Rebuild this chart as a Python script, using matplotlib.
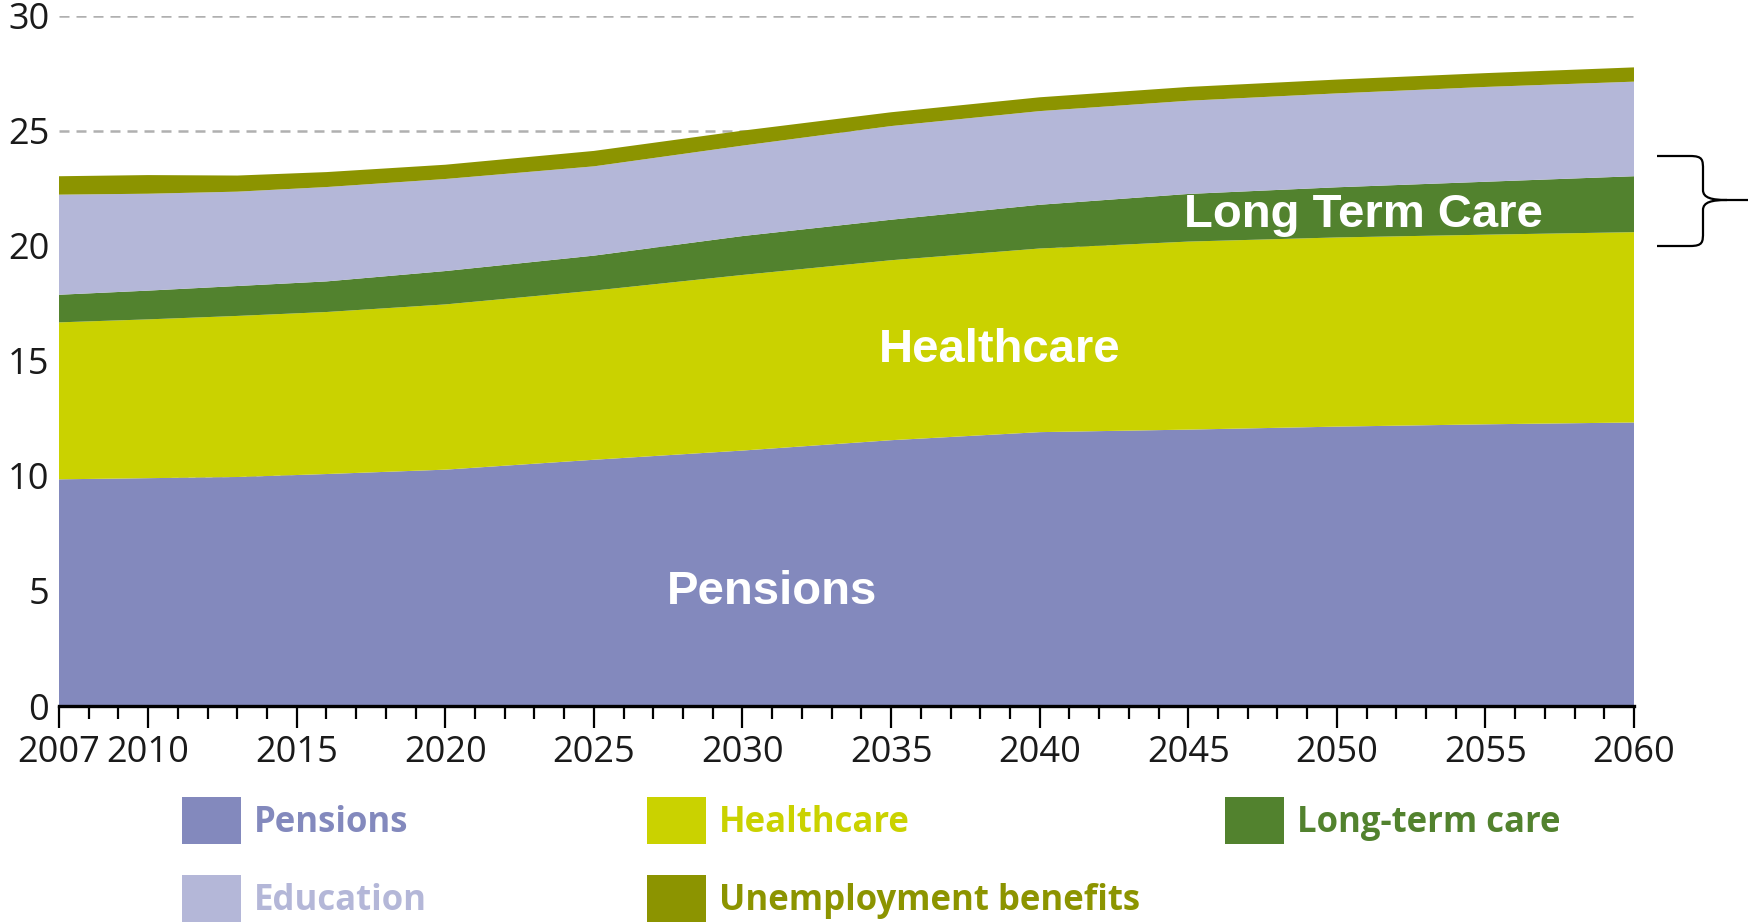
import matplotlib.pyplot as plt
import numpy as np
from matplotlib.patches import Rectangle, PathPatch
from matplotlib.path import Path
from matplotlib.ticker import MultipleLocator

# Gasto por categoria (% del PIB), años de proyeccion
years = [2007, 2010, 2013, 2016, 2020, 2025, 2030, 2035, 2040, 2045, 2050, 2055, 2060]
pensions = [9.85, 9.90, 9.95, 10.08, 10.27, 10.70, 11.10, 11.55, 11.90, 12.01, 12.14, 12.24, 12.32]
healthcare = [6.82, 6.90, 7.00, 7.04, 7.18, 7.35, 7.63, 7.82, 7.98, 8.17, 8.22, 8.24, 8.27]
long_term_care = [1.20, 1.25, 1.30, 1.33, 1.45, 1.52, 1.69, 1.76, 1.90, 2.07, 2.18, 2.30, 2.43]
education = [4.35, 4.21, 4.10, 4.10, 4.00, 3.88, 3.93, 4.07, 4.07, 4.05, 4.08, 4.12, 4.11]
unemployment = [0.80, 0.81, 0.70, 0.65, 0.62, 0.67, 0.65, 0.60, 0.60, 0.60, 0.60, 0.60, 0.62]

labels = ["Pensions", "Healthcare", "Long-term care", "Education", "Unemployment benefits"]
colors = ["#8389bd", "#cad200", "#52822e", "#b4b7d8", "#8c9400"]

W, H = 1748, 923
fig = plt.figure(figsize=(W / 100, H / 100), dpi=100)
ax = fig.add_axes([59 / W, (H - 706) / H, (1634 - 59) / W, (706 - 15.6) / H])

ax.stackplot(years, pensions, healthcare, long_term_care, education, unemployment,
             colors=colors, linewidth=0, zorder=2)

ax.set_xlim(2007, 2060)
ax.set_ylim(0, 30)

# rejilla horizontal discontinua, detras de las areas
ax.yaxis.set_major_locator(MultipleLocator(5))
ax.grid(axis="y", color="#b0b0b0", linestyle=(0, (4.0, 2.8)), linewidth=1.8, zorder=0)
ax.set_axisbelow(True)

for s in ["top", "right", "left"]:
    ax.spines[s].set_visible(False)
ax.spines["bottom"].set_linewidth(2.4)
ax.spines["bottom"].set_color("black")
ax.spines["bottom"].set_zorder(5)

ax.set_xticks([2007, 2010, 2015, 2020, 2025, 2030, 2035, 2040, 2045, 2050, 2055, 2060])
ax.xaxis.set_minor_locator(MultipleLocator(1))
ax.tick_params(axis="x", which="major", length=16, width=1.6, color="black", pad=5,
               labelsize=26, labelcolor="#1a1a1a")
ax.tick_params(axis="x", which="minor", length=9, width=1.6, color="black")
ax.tick_params(axis="y", length=0, pad=7, labelsize=26, labelcolor="#1a1a1a")
for t in ax.get_xticklabels() + ax.get_yticklabels():
    t.set_fontfamily("Open Sans")

# etiquetas dentro de las areas
lab_font = dict(family="Liberation Sans", weight="bold", size=34, color="white",
                ha="center", va="center", zorder=6)
ax.text(2031.0, 4.95, "Pensions", **lab_font)
ax.text(2038.65, 15.45, "Healthcare", **lab_font)
ax.text(2050.9, 21.35, "Long Term Care", **lab_font)

# llave a la derecha que agrupa el cuidado de larga duracion
def px(x, y):
    return (x / W, 1 - y / H)

verts = [px(1657, 156), px(1690, 156), px(1703, 156), px(1703, 160), px(1703, 170),
         px(1703, 190), px(1703, 198), px(1712, 200), px(1727, 200),
         px(1657, 246), px(1690, 246), px(1703, 246), px(1703, 242), px(1703, 232),
         px(1703, 210), px(1703, 202), px(1712, 200), px(1727, 200),
         px(1727, 200), px(1748, 200)]
codes = [Path.MOVETO, Path.LINETO, Path.CURVE4, Path.CURVE4, Path.CURVE4,
         Path.LINETO, Path.CURVE4, Path.CURVE4, Path.CURVE4,
         Path.MOVETO, Path.LINETO, Path.CURVE4, Path.CURVE4, Path.CURVE4,
         Path.LINETO, Path.CURVE4, Path.CURVE4, Path.CURVE4,
         Path.MOVETO, Path.LINETO]
fig.add_artist(PathPatch(Path(verts, codes), facecolor="none", edgecolor="black",
                         linewidth=1.6, transform=fig.transFigure))

# leyenda hecha a mano: cuadro de color + texto del mismo color
leg_pos = [(182, 820), (647, 820), (1225, 820), (182, 898), (647, 898)]
for lab, col, (x, y) in zip(labels, colors, leg_pos):
    fig.add_artist(Rectangle(px(x, y + 23.5), 59 / W, 47 / H, facecolor=col,
                             edgecolor="none", transform=fig.transFigure))
    fig.text((x + 72) / W, 1 - (y + 3) / H, lab, color=col, family="Open Sans",
             weight="bold", size=25, ha="left", va="center")

fig.savefig("out.png", dpi=100)
